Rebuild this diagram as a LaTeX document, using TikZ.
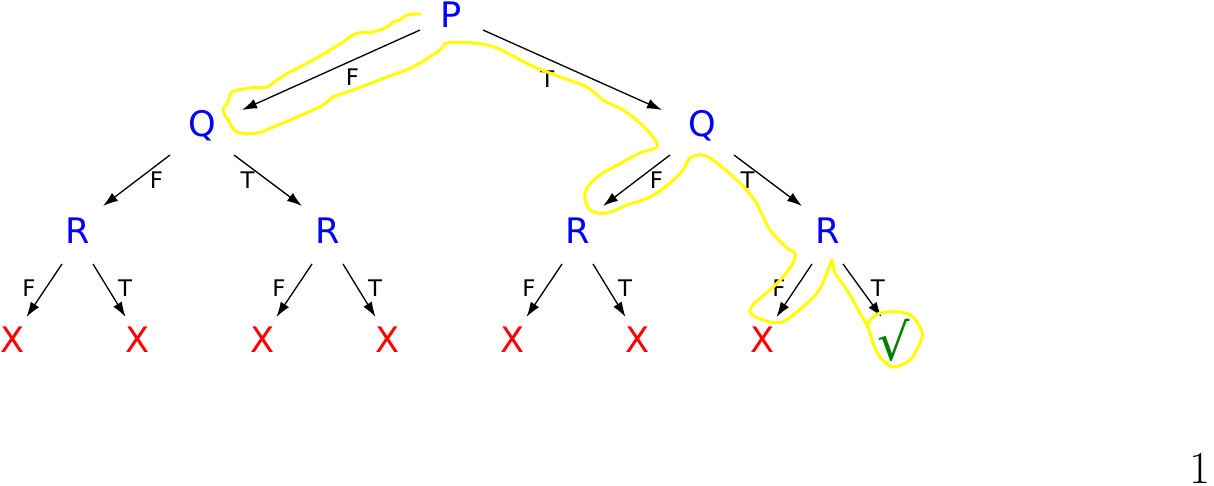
\documentclass[tikz,border=0pt]{standalone}
\usepackage{fontspec}
\setsansfont{DejaVu Sans}
\usepackage{xcolor}
\usepackage{tikz}
\usetikzlibrary{arrows.meta,positioning}
\definecolor{hlyellow}{RGB}{255,255,0}
\definecolor{okgreen}{RGB}{0,128,0}

\begin{document}
\begin{tikzpicture}[
    x=0.02cm, y=-0.02cm,
    every node/.style={inner sep=0pt, font=\sffamily},
    var/.style={text=blue, font=\sffamily\fontsize{20}{24}\selectfont, text depth=0pt},
    fail/.style={text=red, font=\sffamily\fontsize{20}{24}\selectfont, text depth=0pt},
    ok/.style={text=okgreen, font=\sffamily\fontsize{29}{32}\selectfont},
    arr/.style={-{Latex[length=0.3cm,width=0.2cm]}, line width=0.75pt},
    lbl/.style={font=\sffamily\fontsize{13}{15}\selectfont},
    hl/.style={draw=hlyellow, line width=1.7pt, line cap=round, line join=round}
]
    \useasboundingbox (0,0) rectangle (1214,485);

    % variables
    \node [var] (P) at (451.5,15) {P};
    \node [var] (Q1) at (202,123.5) {Q};
    \node [var] (Q2) at (702,123.5) {Q};
    \foreach \i in {1,...,4}
        \node [var] (R\i) at (77.5+250*\i-250,231) {R};

    % leaves
    \foreach \i in {1,...,7}
        \node [fail] (X\i) at (12.5+125*\i-125,340) {X};
    \node [ok] (X8) at (893.5,340) {√};

    % level 1
    \draw [arr] ([shift={(-31.5,15)}]P.center) -- node [lbl, pos=0.38, yshift=-0.33cm] {F} ([shift={(40,-13.5)}]Q1.center);
    \draw [arr] ([shift={(31.5,15)}]P.center) -- node [lbl, pos=0.36, yshift=-0.41cm] {T} ([shift={(-40,-13.5)}]Q2.center);

    % level 2
    \draw [arr] ([shift={(-32,31.5)}]Q1.center) -- node [lbl, pos=0.5, xshift=0.4cm] {F} ([shift={(25.5,-25)}]R1.center);
    \draw [arr] ([shift={(32,31.5)}]Q1.center) -- node [lbl, pos=0.5, xshift=-0.41cm] {T} ([shift={(-25.5,-25)}]R2.center);
    \draw [arr] ([shift={(-32,31.5)}]Q2.center) -- node [lbl, pos=0.5, xshift=0.4cm] {F} ([shift={(25.5,-25)}]R3.center);
    \draw [arr] ([shift={(32,31.5)}]Q2.center) -- node [lbl, pos=0.5, xshift=-0.41cm] {T} ([shift={(-25.5,-25)}]R4.center);

    % level 3
    \foreach \i/\a/\b in {1/1/2, 2/3/4, 3/5/6, 4/7/8} {
        \draw [arr] ([shift={(-15.5,33)}]R\i.center) -- node [lbl, pos=0.45, xshift=-0.34cm] {F} ([shift={(14,-23)}]X\a.center);
        \draw [arr] ([shift={(15.5,33)}]R\i.center) -- node [lbl, pos=0.45, xshift=0.35cm] {T} ([shift={(-12,-23)}]X\b.center);
    }

    % highlighted path
    \draw [hl] plot [smooth, tension=0.55] coordinates {
        (420,14) (407,15) (400,20) (393,22) (387,27) (373,32) (358,33) (350,37) (343,42)
        (330,50) (313,60) (290,72) (277,80) (267,87) (250,88) (232,92) (228,102) (223,110)
        (228,120) (237,132) (257,133) (273,127) (297,117) (323,105) (333,97) (353,90)
        (387,77) (413,67) (440,50) (447,43) (473,43) (497,48) (530,65) (563,78) (587,87)
        (603,100) (623,110) (640,123) (653,137) (657,147) (640,153) (623,162) (597,177)
        (585,193) (590,210) (607,213) (627,205) (650,197) (670,183) (683,170) (690,158)
        (703,155) (717,163) (740,183) (753,198) (760,210) (770,230) (787,248) (795,253)
        (793,263) (783,277) (770,290) (753,305) (752,315) (777,323) (793,315) (817,293)
        (827,273) (832,260) (835,273) (847,290) (860,313) (868,327) (873,343) (880,357)
        (893,367) (910,360) (920,343) (922,332) (913,317) (900,312) (880,313) (870,320)
        (867,327)};

    % page number
    \node [font=\rmfamily\fontsize{26}{30}\selectfont, anchor=base east] (page) at (1211,483) {1};
\end{tikzpicture}
\end{document}
